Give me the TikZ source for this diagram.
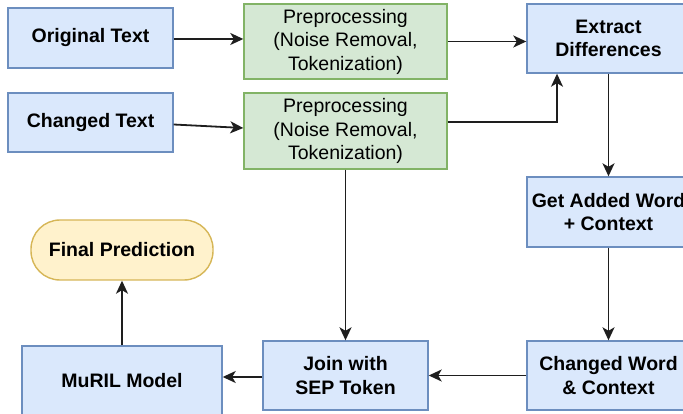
\documentclass[tikz,border=0pt]{standalone}
\usepackage{fontspec}
\setmainfont{Liberation Sans}
\usetikzlibrary{arrows.meta,calc}
\definecolor{bluefill}{HTML}{DAE8FC}
\definecolor{blueline}{HTML}{6C8EBF}
\definecolor{greenfill}{HTML}{D5E8D4}
\definecolor{greenline}{HTML}{82B366}
\definecolor{yellowfill}{HTML}{FFF2CC}
\definecolor{yellowline}{HTML}{D6B656}
\definecolor{wire}{HTML}{1E1E1E}
\begin{document}
\begin{tikzpicture}[x=1pt,y=-1pt,
  base/.style={line width=1.4pt,inner sep=0pt,align=center,
    font=\fontsize{19.5}{23.5}\selectfont},
  box/.style={base,draw=blueline,fill=bluefill,font=\fontsize{19.5}{23.5}\selectfont\bfseries},
  prep/.style={base,draw=greenline,fill=greenfill,minimum width=203pt,minimum height=76pt},
  term/.style={base,draw=yellowline,fill=yellowfill,rounded corners=29pt,
    font=\fontsize{19.5}{23.5}\selectfont\bfseries},
  flow/.style={draw=wire,line width=1.8pt,
    -{Stealth[length=13pt,width=12pt,inset=3.5pt]}}]
\useasboundingbox (0,0) rectangle (683,414);

% input texts and preprocessing
\node[box,minimum width=165pt,minimum height=60pt] (orig) at (90.5,38) {Original Text};
\node[box,minimum width=165pt,minimum height=59pt] (chg) at (90.5,122.5) {Changed Text};
\node[prep,minimum height=75pt] (pre1) at (345.5,41.5) {Preprocessing\\(Noise Removal,\\Tokenization)};
\node[prep] (pre2) at (345.5,131) {Preprocessing\\(Noise Removal,\\Tokenization)};

% right column
\node[box,minimum width=163pt,minimum height=69pt] (ext) at (608.5,38.5) {Extract\\Differences};
\node[box,minimum width=163pt,minimum height=70pt] (getw) at (608.5,212) {Get Added Word\\+ Context};
\node[box,minimum width=163pt,minimum height=69pt] (cw) at (608.5,375.5) {Changed Word\\\& Context};

% bottom row and output
\node[box,minimum width=165pt,minimum height=69pt] (join) at (345.5,375.5) {Join with\\SEP Token};
\node[box,minimum width=200pt,minimum height=69pt] (muril) at (122,380.5) {MuRIL Model};
\node[term,minimum width=182pt,minimum height=60pt] (final) at (122,250) {Final Prediction};

\coordinate (bend) at (557,122);

% connectors
\draw[flow] ($(orig.east)+(0,1)$) -- ($(pre1.west)+(0,-2.5)$);
\draw[flow] ($(chg.east)+(0,2)$) -- ($(pre2.west)+(0,-3)$);
\draw[flow] (pre1.east) -- (pre1.east -| ext.west);
\draw[flow] (pre2.east |- bend) -- (bend) -- (ext.south -| bend);
\draw[flow] (ext.south) -- (getw.north);
\draw[flow] (getw.south) -- (cw.north);
\draw[flow] (cw.west) -- (join.east);
\draw[flow] ($(join.west)+(0,1.5)$) -- (muril.east |- 0,377);
\draw[flow] (pre2.south) -- (join.north);
\draw[flow] (muril.north) -- (final.south);
\end{tikzpicture}
\end{document}
